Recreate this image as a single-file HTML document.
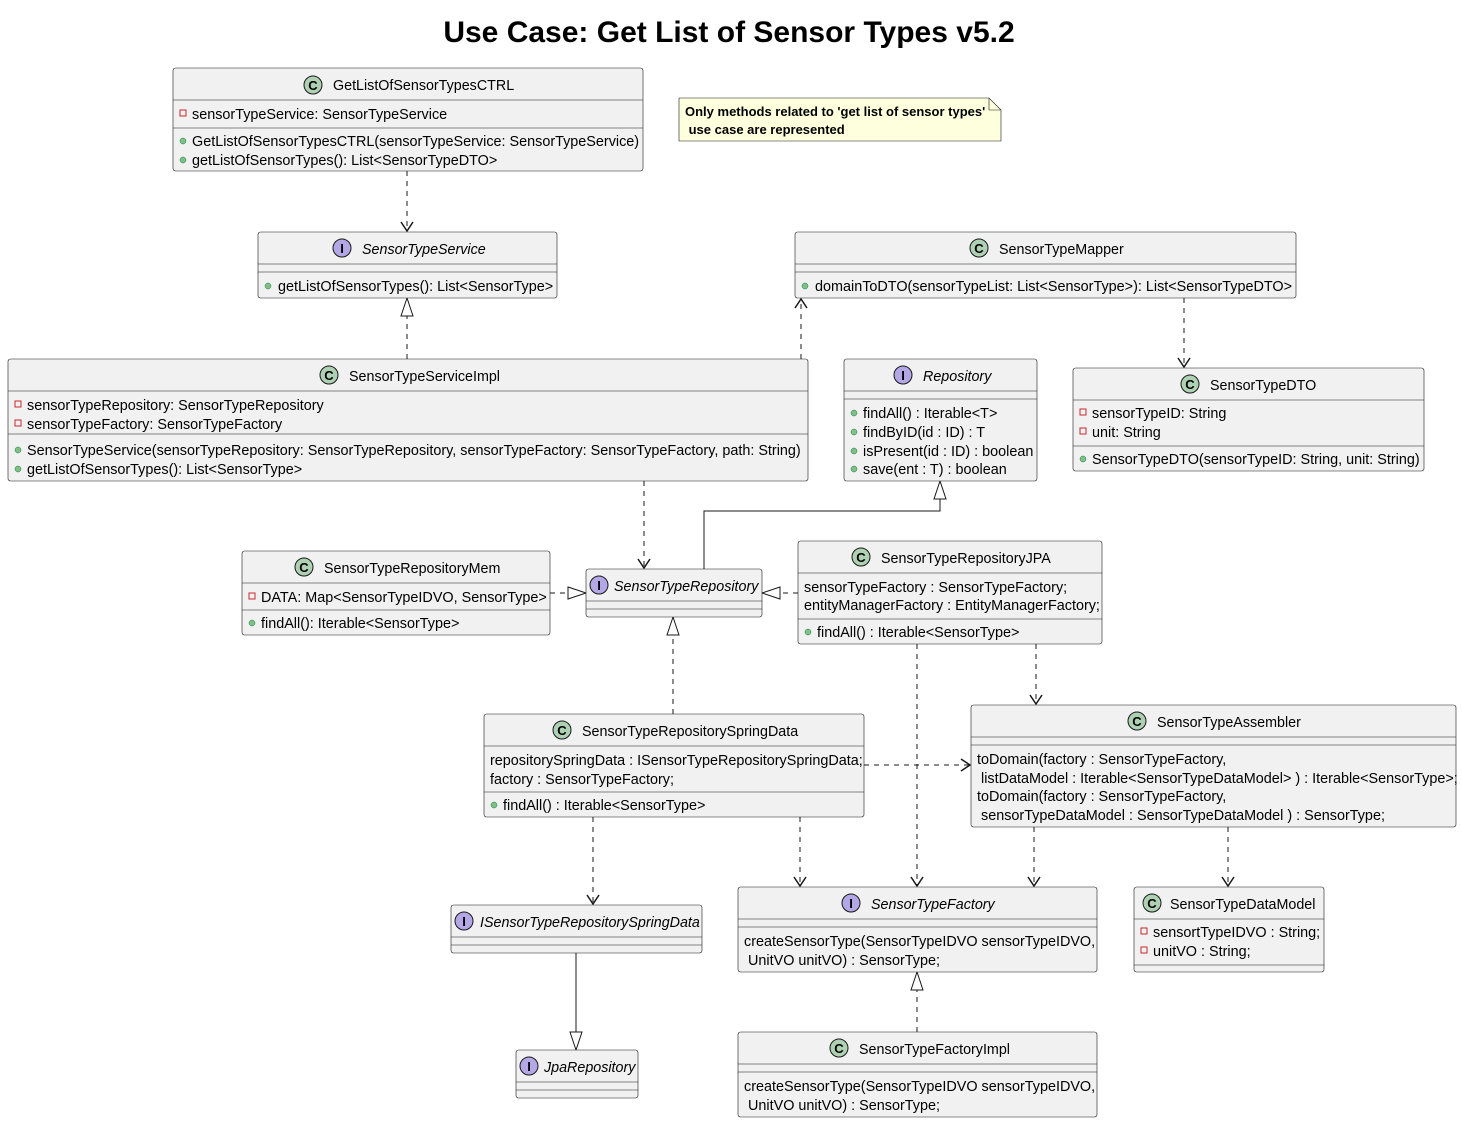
<!DOCTYPE html>
<html><head><meta charset="utf-8"><style>
html,body{margin:0;padding:0;background:#fff;}
svg{display:block;}
text{font-family:"Liberation Sans",sans-serif;font-size:14.4px;fill:#000;}
.t{font-size:14.3px;}
.i{font-style:italic;}
.b{fill:#F1F1F1;stroke:#181818;stroke-width:0.6;}
.l{stroke:#181818;stroke-width:0.6;}
.d{stroke:#181818;stroke-width:1;stroke-dasharray:5,5;fill:none;}
.s{stroke:#181818;stroke-width:1;fill:none;}
.ci{fill:#ADD1B2;stroke:#181818;stroke-width:1;}
.ii{fill:#B4A7E5;stroke:#181818;stroke-width:1;}
.ic{font-weight:bold;font-size:13px;text-anchor:middle;}
.pr{fill:none;stroke:#C82930;stroke-width:1;}
.pu{fill:#84BE84;stroke:#038048;stroke-width:0.5;}
.ah{fill:none;stroke:#181818;stroke-width:1.5;}
.tri{fill:#fff;stroke:#181818;stroke-width:1;}
</style></head><body>
<svg width="1462" height="1123" viewBox="0 0 1462 1123" xmlns="http://www.w3.org/2000/svg">
<text x="729" y="42" text-anchor="middle" style="font-size:30px;font-weight:bold">Use Case: Get List of Sensor Types v5.2</text>

<!-- connectors -->
<line class="d" x1="407" y1="171" x2="407" y2="231"/><polyline class="ah" points="401,222 407,231 413,222"/>
<line class="d" x1="407" y1="359" x2="407" y2="316"/><polygon class="tri" points="407,298 401,316 413,316"/>
<line class="d" x1="801" y1="359" x2="801" y2="299"/><polyline class="ah" points="795,308 801,299 807,308"/>
<line class="d" x1="1184" y1="298" x2="1184" y2="367"/><polyline class="ah" points="1178,358 1184,367 1190,358"/>
<line class="d" x1="644" y1="481" x2="644" y2="568"/><polyline class="ah" points="638,559 644,568 650,559"/>
<polyline class="s" points="704,569 704,511 940,511 940,499"/><polygon class="tri" points="940,481 934,499 946,499"/>
<line class="d" x1="550" y1="593" x2="568" y2="593"/><polygon class="tri" points="586,593 568,587 568,599"/>
<line class="d" x1="798" y1="593" x2="780" y2="593"/><polygon class="tri" points="762,593 780,587 780,599"/>
<line class="d" x1="673" y1="714" x2="673" y2="635"/><polygon class="tri" points="673,617 667,635 679,635"/>
<line class="d" x1="1036" y1="644" x2="1036" y2="704"/><polyline class="ah" points="1030,695 1036,704 1042,695"/>
<line class="d" x1="917" y1="644" x2="917" y2="886"/><polyline class="ah" points="911,877 917,886 923,877"/>
<line class="d" x1="864" y1="765" x2="970" y2="765"/><polyline class="ah" points="961,759 970,765 961,771"/>
<line class="d" x1="593" y1="817" x2="593" y2="904"/><polyline class="ah" points="587,895 593,904 599,895"/>
<line class="d" x1="800" y1="817" x2="800" y2="886"/><polyline class="ah" points="794,877 800,886 806,877"/>
<line class="d" x1="1034" y1="827" x2="1034" y2="886"/><polyline class="ah" points="1028,877 1034,886 1040,877"/>
<line class="d" x1="1228" y1="827" x2="1228" y2="886"/><polyline class="ah" points="1222,877 1228,886 1234,877"/>
<line class="s" x1="576" y1="953" x2="576" y2="1032"/><polygon class="tri" points="576,1050 570,1032 582,1032"/>
<line class="d" x1="917" y1="1032" x2="917" y2="990"/><polygon class="tri" points="917,972 911,990 923,990"/>

<!-- CTRL -->
<rect class="b" x="173" y="68" width="470" height="103" rx="2.5"/>
<line class="l" x1="173" y1="100" x2="643" y2="100"/><line class="l" x1="173" y1="128" x2="643" y2="128"/>
<circle class="ci" cx="313" cy="85" r="9"/><text class="ic" x="313" y="90">C</text>
<text class="t" x="333" y="90">GetListOfSensorTypesCTRL</text>
<rect class="pr" x="180" y="110" width="6" height="6"/><text x="192" y="119">sensorTypeService: SensorTypeService</text>
<circle class="pu" cx="183" cy="141" r="3"/><text x="192" y="146">GetListOfSensorTypesCTRL(sensorTypeService: SensorTypeService)</text>
<circle class="pu" cx="183" cy="160" r="3"/><text x="192" y="165">getListOfSensorTypes(): List&lt;SensorTypeDTO&gt;</text>

<!-- Note -->
<polygon points="679,98 989,98 1001,110 1001,141 679,141" style="fill:#FEFFDD;stroke:#181818;stroke-width:0.6"/>
<polyline points="989,98 989,110 1001,110" style="fill:none;stroke:#181818;stroke-width:0.6"/>
<text x="685" y="116" style="font-size:13px;font-weight:bold">Only methods related to 'get list of sensor types'</text>
<text x="685" y="134" style="font-size:13px;font-weight:bold" xml:space="preserve"> use case are represented</text>

<!-- SensorTypeService -->
<rect class="b" x="258" y="232" width="299" height="66" rx="2.5"/>
<line class="l" x1="258" y1="264" x2="557" y2="264"/><line class="l" x1="258" y1="272" x2="557" y2="272"/>
<circle class="ii" cx="342" cy="248" r="9"/><text class="ic" x="342" y="253">I</text>
<text class="t i" x="362" y="254">SensorTypeService</text>
<circle class="pu" cx="268" cy="286" r="3"/><text x="278" y="291">getListOfSensorTypes(): List&lt;SensorType&gt;</text>

<!-- Mapper -->
<rect class="b" x="795" y="232" width="501" height="66" rx="2.5"/>
<line class="l" x1="795" y1="264" x2="1296" y2="264"/><line class="l" x1="795" y1="272" x2="1296" y2="272"/>
<circle class="ci" cx="979" cy="248" r="9"/><text class="ic" x="979" y="253">C</text>
<text class="t" x="999" y="254">SensorTypeMapper</text>
<circle class="pu" cx="805" cy="286" r="3"/><text x="815" y="291">domainToDTO(sensorTypeList: List&lt;SensorType&gt;): List&lt;SensorTypeDTO&gt;</text>

<!-- Impl -->
<rect class="b" x="8" y="359" width="800" height="122" rx="2.5"/>
<line class="l" x1="8" y1="391" x2="808" y2="391"/><line class="l" x1="8" y1="434" x2="808" y2="434"/>
<circle class="ci" cx="329" cy="375" r="9"/><text class="ic" x="329" y="380">C</text>
<text class="t" x="349" y="381">SensorTypeServiceImpl</text>
<rect class="pr" x="15" y="401" width="6" height="6"/><text x="27" y="410">sensorTypeRepository: SensorTypeRepository</text>
<rect class="pr" x="15" y="420" width="6" height="6"/><text x="27" y="429">sensorTypeFactory: SensorTypeFactory</text>
<circle class="pu" cx="18" cy="450" r="3"/><text x="27" y="455">SensorTypeService(sensorTypeRepository: SensorTypeRepository, sensorTypeFactory: SensorTypeFactory, path: String)</text>
<circle class="pu" cx="18" cy="469" r="3"/><text x="27" y="474">getListOfSensorTypes(): List&lt;SensorType&gt;</text>

<!-- Repository -->
<rect class="b" x="844" y="359" width="193" height="122" rx="2.5"/>
<line class="l" x1="844" y1="391" x2="1037" y2="391"/><line class="l" x1="844" y1="399" x2="1037" y2="399"/>
<circle class="ii" cx="903" cy="375" r="9"/><text class="ic" x="903" y="380">I</text>
<text class="t i" x="923" y="381">Repository</text>
<circle class="pu" cx="854" cy="413" r="3"/><text x="863" y="418">findAll() : Iterable&lt;T&gt;</text>
<circle class="pu" cx="854" cy="432" r="3"/><text x="863" y="437">findByID(id : ID) : T</text>
<circle class="pu" cx="854" cy="451" r="3"/><text x="863" y="456">isPresent(id : ID) : boolean</text>
<circle class="pu" cx="854" cy="469" r="3"/><text x="863" y="474">save(ent : T) : boolean</text>

<!-- DTO -->
<rect class="b" x="1073" y="368" width="351" height="103" rx="2.5"/>
<line class="l" x1="1073" y1="400" x2="1424" y2="400"/><line class="l" x1="1073" y1="446" x2="1424" y2="446"/>
<circle class="ci" cx="1190" cy="384" r="9"/><text class="ic" x="1190" y="389">C</text>
<text class="t" x="1210" y="390">SensorTypeDTO</text>
<rect class="pr" x="1080" y="409" width="6" height="6"/><text x="1092" y="418">sensorTypeID: String</text>
<rect class="pr" x="1080" y="428" width="6" height="6"/><text x="1092" y="437">unit: String</text>
<circle class="pu" cx="1083" cy="459" r="3"/><text x="1092" y="464">SensorTypeDTO(sensorTypeID: String, unit: String)</text>

<!-- Mem -->
<rect class="b" x="242" y="551" width="308" height="84" rx="2.5"/>
<line class="l" x1="242" y1="583" x2="550" y2="583"/><line class="l" x1="242" y1="610" x2="550" y2="610"/>
<circle class="ci" cx="304" cy="567" r="9"/><text class="ic" x="304" y="572">C</text>
<text class="t" x="324" y="573">SensorTypeRepositoryMem</text>
<rect class="pr" x="249" y="593" width="6" height="6"/><text x="261" y="602">DATA: Map&lt;SensorTypeIDVO, SensorType&gt;</text>
<circle class="pu" cx="252" cy="623" r="3"/><text x="261" y="628">findAll(): Iterable&lt;SensorType&gt;</text>

<!-- SensorTypeRepository -->
<rect class="b" x="586" y="569" width="176" height="48" rx="2.5"/>
<line class="l" x1="586" y1="601" x2="762" y2="601"/><line class="l" x1="586" y1="609" x2="762" y2="609"/>
<circle class="ii" cx="599" cy="585" r="9"/><text class="ic" x="599" y="590">I</text>
<text class="t i" x="614" y="591">SensorTypeRepository</text>

<!-- JPA -->
<rect class="b" x="798" y="541" width="304" height="103" rx="2.5"/>
<line class="l" x1="798" y1="573" x2="1102" y2="573"/><line class="l" x1="798" y1="619" x2="1102" y2="619"/>
<circle class="ci" cx="861" cy="557" r="9"/><text class="ic" x="861" y="562">C</text>
<text class="t" x="881" y="563">SensorTypeRepositoryJPA</text>
<text x="804" y="592">sensorTypeFactory : SensorTypeFactory;</text>
<text x="804" y="610">entityManagerFactory : EntityManagerFactory;</text>
<circle class="pu" cx="808" cy="632" r="3"/><text x="817" y="637">findAll() : Iterable&lt;SensorType&gt;</text>

<!-- SpringData -->
<rect class="b" x="484" y="714" width="380" height="103" rx="2.5"/>
<line class="l" x1="484" y1="746" x2="864" y2="746"/><line class="l" x1="484" y1="792" x2="864" y2="792"/>
<circle class="ci" cx="562" cy="730" r="9"/><text class="ic" x="562" y="735">C</text>
<text class="t" x="582" y="736">SensorTypeRepositorySpringData</text>
<text x="490" y="765">repositorySpringData : ISensorTypeRepositorySpringData;</text>
<text x="490" y="784">factory : SensorTypeFactory;</text>
<circle class="pu" cx="494" cy="805" r="3"/><text x="503" y="810">findAll() : Iterable&lt;SensorType&gt;</text>

<!-- Assembler -->
<rect class="b" x="971" y="705" width="485" height="122" rx="2.5"/>
<line class="l" x1="971" y1="737" x2="1456" y2="737"/><line class="l" x1="971" y1="745" x2="1456" y2="745"/>
<circle class="ci" cx="1137" cy="721" r="9"/><text class="ic" x="1137" y="726">C</text>
<text class="t" x="1157" y="727">SensorTypeAssembler</text>
<text x="977" y="764">toDomain(factory : SensorTypeFactory,</text>
<text x="977" y="783" xml:space="preserve"> listDataModel : Iterable&lt;SensorTypeDataModel&gt; ) : Iterable&lt;SensorType&gt;;</text>
<text x="977" y="801">toDomain(factory : SensorTypeFactory,</text>
<text x="977" y="820" xml:space="preserve"> sensorTypeDataModel : SensorTypeDataModel ) : SensorType;</text>

<!-- ISpringData -->
<rect class="b" x="451" y="905" width="251" height="48" rx="2.5"/>
<line class="l" x1="451" y1="937" x2="702" y2="937"/><line class="l" x1="451" y1="945" x2="702" y2="945"/>
<circle class="ii" cx="464" cy="921" r="9"/><text class="ic" x="464" y="926">I</text>
<text class="t i" x="480" y="927">ISensorTypeRepositorySpringData</text>

<!-- Factory -->
<rect class="b" x="738" y="887" width="359" height="85" rx="2.5"/>
<line class="l" x1="738" y1="919" x2="1097" y2="919"/><line class="l" x1="738" y1="927" x2="1097" y2="927"/>
<circle class="ii" cx="851" cy="903" r="9"/><text class="ic" x="851" y="908">I</text>
<text class="t i" x="871" y="909">SensorTypeFactory</text>
<text x="744" y="946">createSensorType(SensorTypeIDVO sensorTypeIDVO,</text>
<text x="744" y="965" xml:space="preserve"> UnitVO unitVO) : SensorType;</text>

<!-- DataModel -->
<rect class="b" x="1134" y="887" width="190" height="85" rx="2.5"/>
<line class="l" x1="1134" y1="919" x2="1324" y2="919"/><line class="l" x1="1134" y1="965" x2="1324" y2="965"/>
<circle class="ci" cx="1152" cy="903" r="9"/><text class="ic" x="1152" y="908">C</text>
<text class="t" x="1170" y="909">SensorTypeDataModel</text>
<rect class="pr" x="1141" y="928" width="6" height="6"/><text x="1153" y="937">sensortTypeIDVO : String;</text>
<rect class="pr" x="1141" y="947" width="6" height="6"/><text x="1153" y="956">unitVO : String;</text>

<!-- JpaRepository -->
<rect class="b" x="516" y="1050" width="122" height="48" rx="2.5"/>
<line class="l" x1="516" y1="1082" x2="638" y2="1082"/><line class="l" x1="516" y1="1090" x2="638" y2="1090"/>
<circle class="ii" cx="529" cy="1066" r="9"/><text class="ic" x="529" y="1071">I</text>
<text class="t i" x="544" y="1072">JpaRepository</text>

<!-- FactoryImpl -->
<rect class="b" x="738" y="1032" width="359" height="85" rx="2.5"/>
<line class="l" x1="738" y1="1064" x2="1097" y2="1064"/><line class="l" x1="738" y1="1072" x2="1097" y2="1072"/>
<circle class="ci" cx="839" cy="1048" r="9"/><text class="ic" x="839" y="1053">C</text>
<text class="t" x="859" y="1054">SensorTypeFactoryImpl</text>
<text x="744" y="1091">createSensorType(SensorTypeIDVO sensorTypeIDVO,</text>
<text x="744" y="1110" xml:space="preserve"> UnitVO unitVO) : SensorType;</text>
</svg>
</body></html>
